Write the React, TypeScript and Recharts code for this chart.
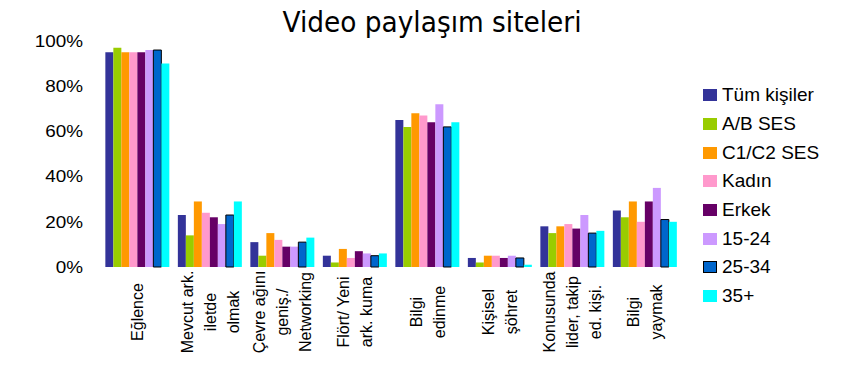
import React from "react";
import { BarChart, Bar, XAxis, YAxis } from "recharts";

const categories: string[][] = [
  ["Eğlence"],
  ["Mevcut ark.", "iletde", "olmak"],
  ["Çevre ağını", "geniş./", "Networking"],
  ["Flört/ Yeni", "ark. kuma"],
  ["Bilgi", "edinme"],
  ["Kişisel", "şöhret"],
  ["Konusunda", "lider, takip", "ed. kişi."],
  ["Bilgi", "yaymak"],
];

const tumKisiler = [95, 23, 11, 5, 65, 4, 18, 25];
const abSes = [97, 14, 5, 2, 62, 2, 15, 22];
const c1c2Ses = [95, 29, 15, 8, 68, 5, 18, 29];
const kadin = [95, 24, 12, 4, 67, 5, 19, 20];
const erkek = [95, 22, 9, 7, 64, 4, 17, 29];
const age1524 = [96, 19, 9, 6, 72, 5, 23, 35];
const age2534 = [96, 23, 11, 5, 62, 4, 15, 21];
const age35 = [90, 29, 13, 6, 64, 1, 16, 20];

const yTicks = [0, 20, 40, 60, 80, 100];

const series = [
  { key: "tum", name: "Tüm kişiler", values: tumKisiler, color: "#333399", stroke: "none" },
  { key: "ab", name: "A/B SES", values: abSes, color: "#99CC00", stroke: "none" },
  { key: "c1c2", name: "C1/C2 SES", values: c1c2Ses, color: "#FF9900", stroke: "none" },
  { key: "kadin", name: "Kadın", values: kadin, color: "#FF99CC", stroke: "none" },
  { key: "erkek", name: "Erkek", values: erkek, color: "#660066", stroke: "none" },
  { key: "a1524", name: "15-24", values: age1524, color: "#CC99FF", stroke: "none" },
  { key: "a2534", name: "25-34", values: age2534, color: "#0066CC", stroke: "#000000" },
  { key: "a35", name: "35+", values: age35, color: "#00FFFF", stroke: "none" },
];

const data = categories.map((lines, i) => {
  const row: Record<string, any> = { cat: lines.join(" "), idx: i };
  series.forEach((s) => {
    row[s.key] = s.values[i];
  });
  return row;
});

const FONT = "'Liberation Sans', Arial, sans-serif";

const XTick = (props: any) => {
  const { x, payload } = props;
  const lines = categories[payload.index] || [payload.value];
  const n = lines.length;
  const spacing = 23;
  return (
    <g>
      {lines.map((line: string, i: number) => {
        const cx = x + (i - (n - 1) / 2) * spacing;
        return (
          <text
            key={i}
            x={cx}
            y={312}
            transform={`rotate(-90 ${cx} 312)`}
            textAnchor="middle"
            dy="0.36em"
            fontFamily={FONT}
            fontSize={16}
            fill="#000"
          >
            {line}
          </text>
        );
      })}
    </g>
  );
};

const YTick = (props: any) => {
  const { x, y, payload } = props;
  const tx = x - 10;
  return (
    <text
      x={tx}
      y={y}
      dy="0.36em"
      textAnchor="end"
      fontFamily={FONT}
      fontSize={16}
      fill="#000"
      transform={`translate(${tx} 0) scale(1.18 1) translate(${-tx} 0)`}
    >
      {`${payload.value}%`}
    </text>
  );
};

export default function App() {
  return (
    <div
      style={{
        position: "relative",
        width: 842,
        height: 378,
        margin: -8,
        background: "#fff",
        overflow: "hidden",
        fontFamily: FONT,
      }}
    >
      <div
        style={{
          position: "absolute",
          left: 5,
          top: 4,
          width: 900,
          height: 500,
          borderTop: "2px solid #333399",
          borderLeft: "2px solid #333399",
        }}
      />
      <div
        style={{
          position: "absolute",
          left: 0,
          width: 864,
          top: 3,
          textAlign: "center",
          fontFamily: "'DejaVu Sans', Verdana, sans-serif",
          fontSize: 28,
          lineHeight: "40px",
          color: "#000",
          transform: "scaleX(0.943)",
        }}
      >
        Video paylaşım siteleri
      </div>
      <div style={{ position: "absolute", left: 0, top: 0 }}>
        <BarChart
          width={842}
          height={378}
          data={data}
          margin={{ top: 41, right: 161, bottom: 0, left: 0 }}
          barGap={0}
          barCategoryGap="6%"
        >
          <XAxis
            dataKey="cat"
            axisLine={false}
            tickLine={false}
            interval={0}
            height={111}
            tick={<XTick />}
          />
          <YAxis
            domain={[0, 100]}
            ticks={yTicks}
            axisLine={false}
            tickLine={false}
            width={101}
            tick={<YTick />}
            interval={0}
          />
          {series.map((s) => (
            <Bar
              key={s.key}
              dataKey={s.key}
              name={s.name}
              fill={s.color}
              stroke={s.stroke}
              strokeWidth={s.stroke !== "none" ? 1 : 0}
              isAnimationActive={false}
            />
          ))}
        </BarChart>
      </div>
      <div
        style={{
          position: "absolute",
          left: 703,
          top: 81,
          width: 139,
          fontFamily: FONT,
          fontSize: 19,
          color: "#000",
        }}
      >
        {series.map((s) => (
          <div
            key={s.key}
            style={{ display: "flex", alignItems: "center", height: 28.7, whiteSpace: "nowrap" }}
          >
            <span
              style={{
                display: "inline-block",
                width: 14,
                height: 12,
                background: s.color,
                boxSizing: "border-box",
                border: s.stroke !== "none" ? "1px solid #000" : "none",
                marginRight: 5,
              }}
            />
            <span>{s.name}</span>
          </div>
        ))}
      </div>
    </div>
  );
}
